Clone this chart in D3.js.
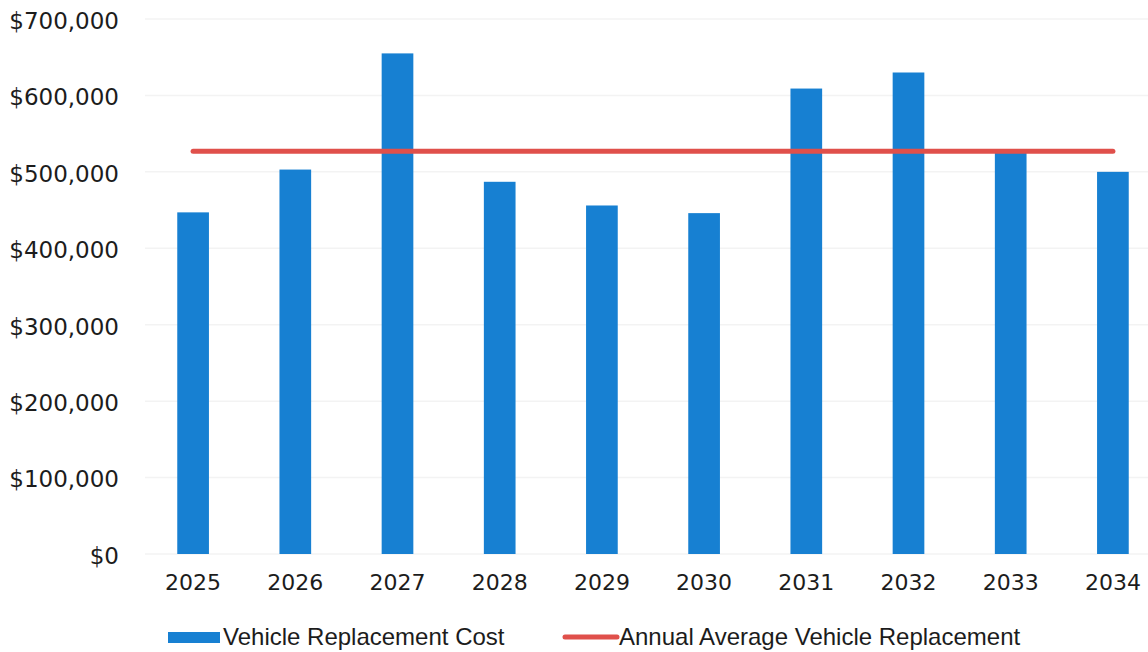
<!DOCTYPE html>
<html>
<head>
<meta charset="utf-8">
<script src="https://cdn.jsdelivr.net/npm/d3@7"></script>
<style>
  body { margin: 0; background: #fff; }
  svg { display: block; }
</style>
</head>
<body>
<svg id="chart"></svg>
<script>
// values
var years = ['2025', '2026', '2027', '2028', '2029', '2030', '2031', '2032', '2033', '2034'];
var replacementCost = [447000, 503000, 655000, 487000, 456000, 446000, 609000, 630000, 525000, 500000];
var annualAverage = 527000;
var yTicks = [0, 100000, 200000, 300000, 400000, 500000, 600000, 700000];

var width = 1148, height = 652;
var svg = d3.select('#chart').attr('width', width).attr('height', height);

var x = d3.scaleBand()
    .domain(years)
    .range([142, 1164])
    .paddingInner(0.69)
    .paddingOuter(0.345);

var y = d3.scaleLinear()
    .domain([0, 700000])
    .range([554, 19]);

// faint gridlines
svg.append('g')
    .selectAll('line')
    .data(yTicks)
    .enter().append('line')
    .attr('x1', 145)
    .attr('x2', width)
    .attr('y1', d => y(d))
    .attr('y2', d => y(d))
    .attr('stroke', '#f3f3f3')
    .attr('stroke-width', 1.5);

// y axis labels
var yAxis = d3.axisLeft(y)
    .tickValues(yTicks)
    .tickSize(0)
    .tickPadding(0)
    .tickFormat(d => '$' + d3.format(',')(d));

svg.append('g')
    .attr('transform', 'translate(119,2)')
    .call(yAxis)
    .call(g => g.select('.domain').remove())
    .selectAll('text')
    .style('font-family', 'DejaVu Sans')
    .style('font-size', '23px')
    .attr('fill', '#1c1c1c');

// x axis labels
var xAxis = d3.axisBottom(x).tickSize(0).tickPadding(0);
svg.append('g')
    .attr('transform', 'translate(0,574)')
    .call(xAxis)
    .call(g => g.select('.domain').remove())
    .selectAll('text')
    .style('font-family', 'DejaVu Sans')
    .style('font-size', '22px')
    .attr('fill', '#1c1c1c');

// bars
svg.selectAll('.bar')
    .data(replacementCost)
    .enter().append('rect')
    .attr('class', 'bar')
    .attr('x', (d, i) => x(years[i]))
    .attr('y', d => y(d))
    .attr('width', x.bandwidth())
    .attr('height', d => y(0) - y(d))
    .attr('fill', '#1780d2');

// average line
var line = d3.line()
    .x(d => x(d) + x.bandwidth() / 2)
    .y(() => y(annualAverage));

svg.append('path')
    .datum([years[0], years[years.length - 1]])
    .attr('d', line)
    .attr('fill', 'none')
    .attr('stroke', '#e0504b')
    .attr('stroke-width', 5)
    .attr('stroke-linecap', 'round');

// legend
var legend = svg.append('g').attr('class', 'legend');
legend.append('rect')
    .attr('x', 168).attr('y', 632)
    .attr('width', 52).attr('height', 11)
    .attr('fill', '#1780d2');
legend.append('text')
    .attr('x', 223).attr('y', 645)
    .style('font-family', 'Liberation Sans')
    .style('font-size', '24px')
    .attr('fill', '#1c1c1c')
    .text('Vehicle Replacement Cost');
legend.append('line')
    .attr('x1', 565).attr('x2', 617)
    .attr('y1', 637).attr('y2', 637)
    .attr('stroke', '#e0504b')
    .attr('stroke-width', 5)
    .attr('stroke-linecap', 'round');
legend.append('text')
    .attr('x', 619).attr('y', 645)
    .style('font-family', 'Liberation Sans')
    .style('font-size', '24px')
    .attr('fill', '#1c1c1c')
    .text('Annual Average Vehicle Replacement');
</script>
</body>
</html>
